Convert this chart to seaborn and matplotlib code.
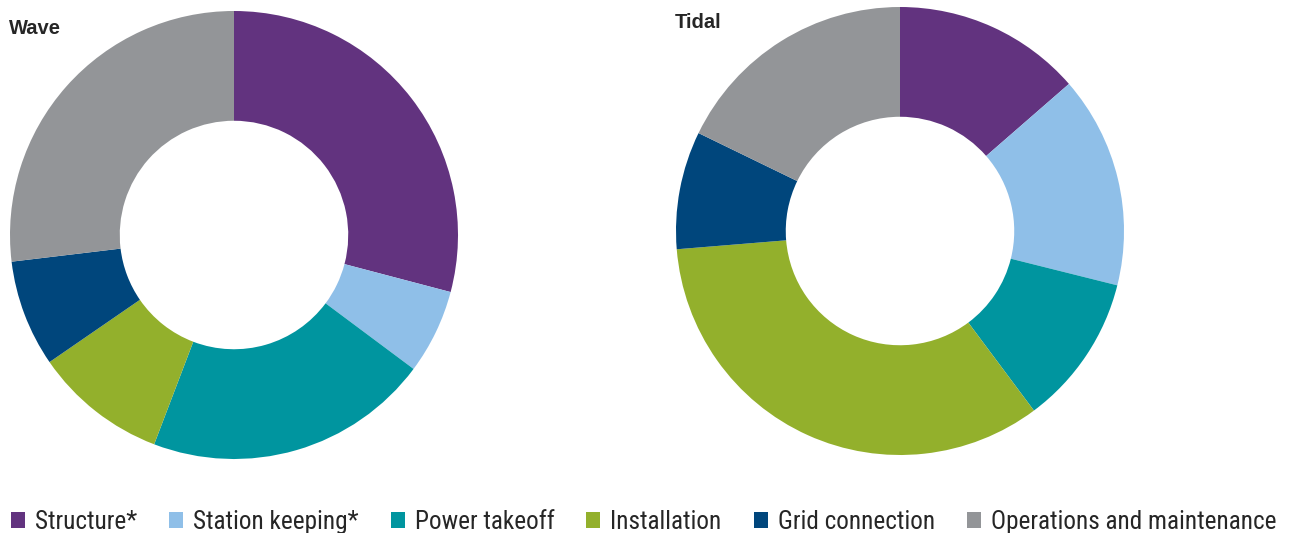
import matplotlib
matplotlib.use("Agg")
import seaborn as sns
from matplotlib import pyplot as plt
from matplotlib import font_manager
from matplotlib.patches import Patch


CATEGORIES = [
    "Structure*",
    "Station keeping*",
    "Power takeoff",
    "Installation",
    "Grid connection",
    "Operations and maintenance",
]
WAVE_SHARES = [29.1, 6.1, 20.6, 9.6, 7.7, 26.9]
TIDAL_SHARES = [13.6, 15.3, 10.9, 33.9, 8.5, 17.8]
COLORS = ["#62337f", "#8fbfe8", "#00959f", "#93b02c", "#00467c", "#939598"]


def pick_font(candidates):
    names = {f.name for f in font_manager.fontManager.ttflist}
    for name in candidates:
        if name in names:
            return name
    return "DejaVu Sans"


def draw_donut(fig, rect, shares, title, title_xy):
    ax = fig.add_axes(rect)
    ax.pie(
        shares,
        colors=COLORS,
        startangle=90,
        counterclock=False,
        radius=1.0,
        wedgeprops=dict(width=0.49, linewidth=0),
    )
    ax.set_xlim(-1, 1)
    ax.set_ylim(-1, 1)
    ax.set_aspect("equal")
    ax.axis("off")
    fig.text(title_xy[0], title_xy[1], title, fontsize=14.5, fontweight="bold",
             family=[TITLE_FONT, "DejaVu Sans"], va="center", ha="left")


sns.set_theme(style="white")
TITLE_FONT = pick_font(["Liberation Sans", "Arial", "DejaVu Sans"])
LEGEND_FONT = pick_font(["Liberation Sans Narrow", "Roboto Condensed", "Roboto", "Liberation Sans"])
plt.rcParams["font.family"] = [LEGEND_FONT, "DejaVu Sans"]

W, H = 1290, 533
fig = plt.figure(figsize=(W / 100, H / 100), dpi=100)

r = 224
draw_donut(fig, [(234 - r) / W, (H - 235 - r) / H, 2 * r / W, 2 * r / H],
           WAVE_SHARES, "Wave", (9 / W, 1 - 28 / H))
draw_donut(fig, [(900 - r) / W, (H - 231 - r) / H, 2 * r / W, 2 * r / H],
           TIDAL_SHARES, "Tidal", (675 / W, 1 - 23 / H))

fs = 18.2
em = fs * 100 / 72
handles = [Patch(facecolor=c, edgecolor="none") for c in COLORS]
fig.legend(
    handles,
    CATEGORIES,
    loc="center left",
    bbox_to_anchor=(11 / W, 1 - 522 / H),
    ncol=6,
    frameon=False,
    fontsize=fs,
    handlelength=14 / em,
    handleheight=14 / em,
    handletextpad=10 / em,
    columnspacing=32 / em,
    borderaxespad=0,
    borderpad=0,
)

fig.savefig("out.png", dpi=100)
